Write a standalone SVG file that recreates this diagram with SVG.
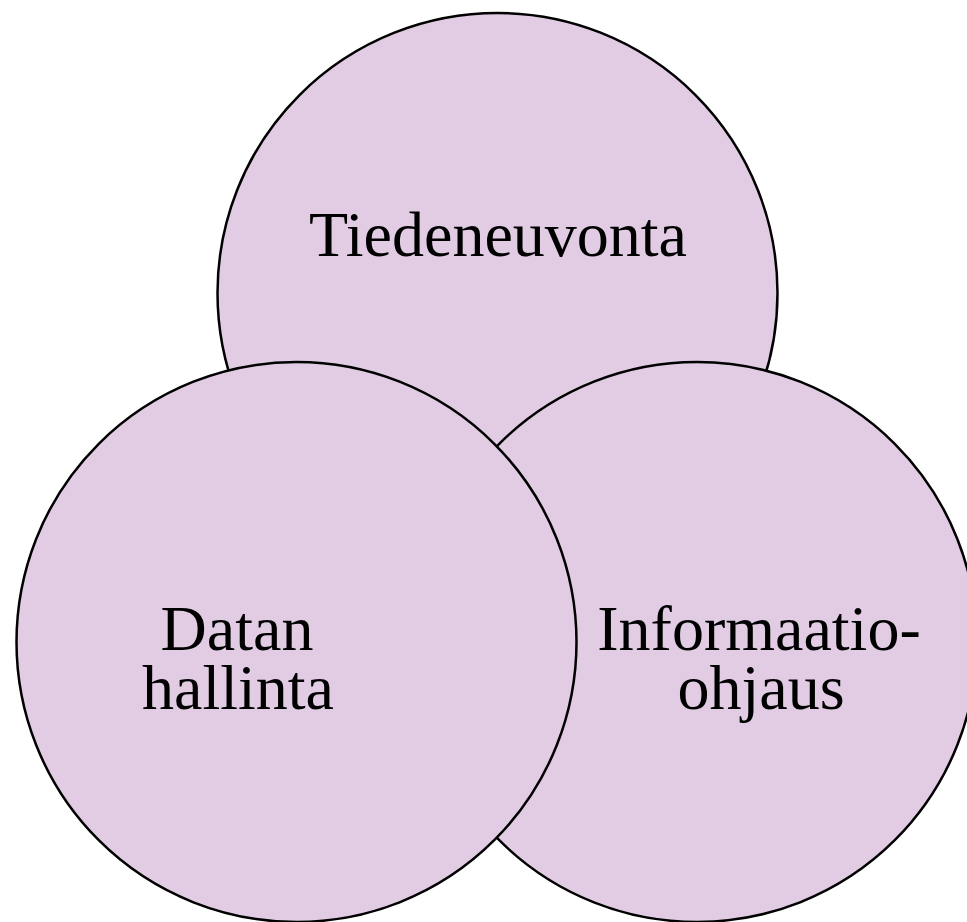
<svg xmlns="http://www.w3.org/2000/svg" width="967" height="922" viewBox="0 0 967 922">
  <style>
    .c { fill: #E1CCE3; stroke: #000; stroke-width: 2.5; }
    .t { font-family: "Liberation Serif", "DejaVu Serif", serif; font-size: 64px; fill: #000; text-anchor: middle; }
  </style>
  <rect width="967" height="922" fill="#fff"/>
  <g id="tiedeneuvonta">
    <circle class="c" cx="497.5" cy="293" r="280"/>
    <text class="t" x="498" y="256">Tiedeneuvonta</text>
  </g>
  <g id="informaatio-ohjaus">
    <circle class="c" cx="697" cy="642" r="280"/>
    <text class="t" x="759" y="650">Informaatio-</text>
    <text class="t" x="761" y="709">ohjaus</text>
  </g>
  <g id="datan-hallinta">
    <circle class="c" cx="296.5" cy="642" r="280"/>
    <text class="t" x="237" y="650">Datan</text>
    <text class="t" x="238" y="709">hallinta</text>
  </g>
  <g id="connectors"></g>
</svg>
